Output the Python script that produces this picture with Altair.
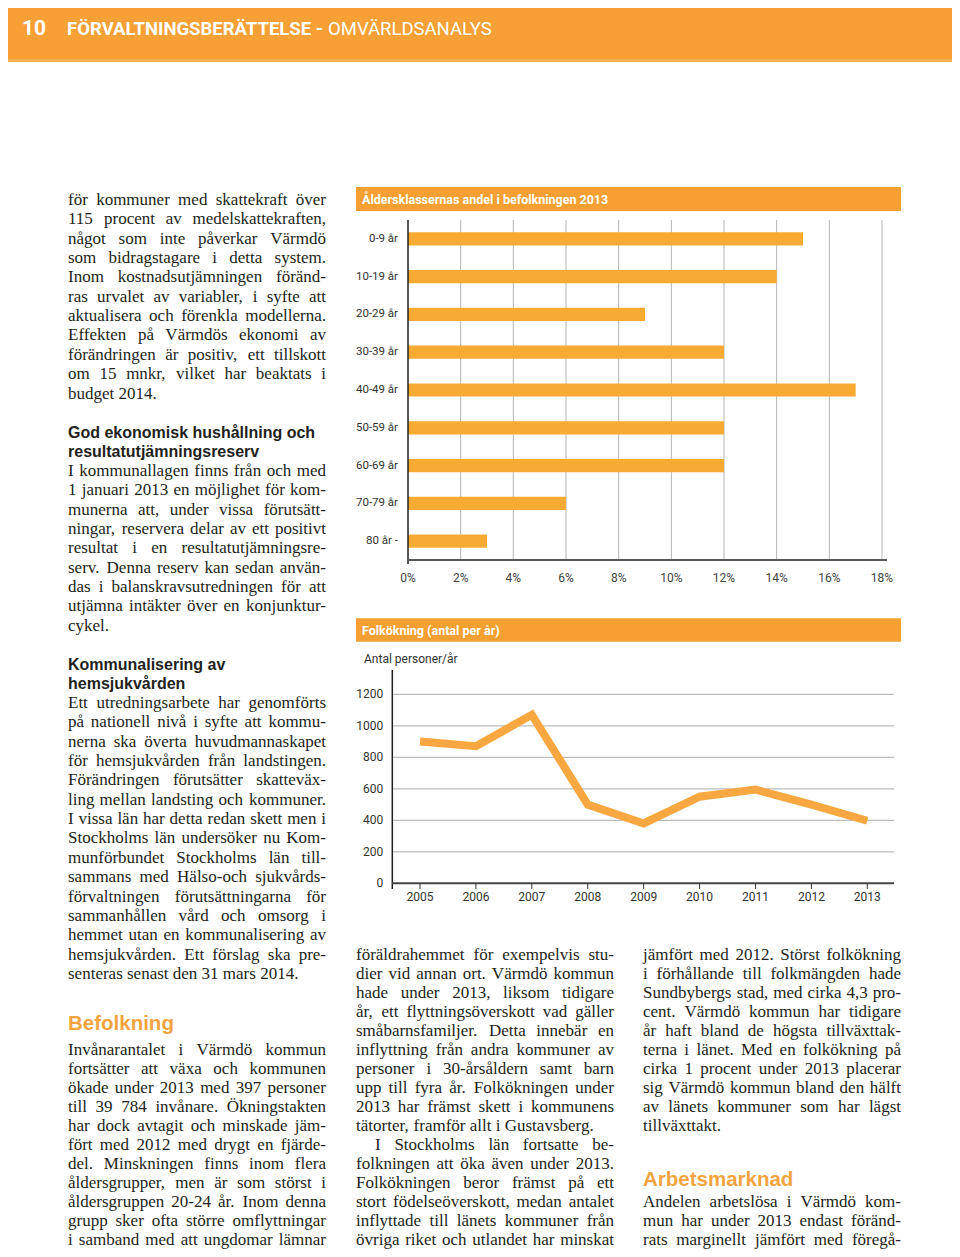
import altair as alt
import pandas as pd

# ------------------------------------------------------------------ data
AGE_GROUPS = ["0-9 år", "10-19 år", "20-29 år", "30-39 år", "40-49 år",
              "50-59 år", "60-69 år", "70-79 år", "80 år -"]
AGE_SHARE = [15, 14, 9, 12, 17, 12, 12, 6, 3]          # percent
PCT_TICKS = [0, 2, 4, 6, 8, 10, 12, 14, 16, 18]

YEARS = ["2005", "2006", "2007", "2008", "2009", "2010", "2011", "2012", "2013"]
GROWTH = [900, 870, 1070, 500, 380, 550, 595, 500, 397]  # persons / year
GROWTH_TICKS = [0, 200, 400, 600, 800, 1000, 1200]

HEADER_NUM = "10"
HEADER_BOLD = "FÖRVALTNINGSBERÄTTELSE -"
HEADER_LIGHT = "OMVÄRLDSANALYS"
BAR_TITLE = "Åldersklassernas andel i befolkningen 2013"
LINE_TITLE = "Folkökning (antal per år)"
LINE_YLABEL = "Antal personer/år"

LEFT_1 = [
    "för kommuner med skattekraft över",
    "115 procent av medelskattekraften,",
    "något som inte påverkar Värmdö",
    "som bidragstagare i detta system.",
    "Inom kostnadsutjämningen föränd-",
    "ras urvalet av variabler, i syfte att",
    "aktualisera och förenkla modellerna.",
    "Effekten på Värmdös ekonomi av",
    "förändringen är positiv, ett tillskott",
    "om 15 mnkr, vilket har beaktats i",
    "budget 2014.",
]
HEAD_1 = ["God ekonomisk hushållning och", "resultatutjämningsreserv"]
LEFT_2 = [
    "I kommunallagen finns från och med",
    "1 januari 2013 en möjlighet för kom-",
    "munerna att, under vissa förutsätt-",
    "ningar, reservera delar av ett positivt",
    "resultat i en resultatutjämningsre-",
    "serv. Denna reserv kan sedan använ-",
    "das i balanskravsutredningen för att",
    "utjämna intäkter över en konjunktur-",
    "cykel.",
]
HEAD_2 = ["Kommunalisering av", "hemsjukvården"]
LEFT_3 = [
    "Ett utredningsarbete har genomförts",
    "på nationell nivå i syfte att kommu-",
    "nerna ska överta huvudmannaskapet",
    "för hemsjukvården från landstingen.",
    "Förändringen förutsätter skatteväx-",
    "ling mellan landsting och kommuner.",
    "I vissa län har detta redan skett men i",
    "Stockholms län undersöker nu Kom-",
    "munförbundet Stockholms län till-",
    "sammans med Hälso-och sjukvårds-",
    "förvaltningen förutsättningarna för",
    "sammanhållen vård och omsorg i",
    "hemmet utan en kommunalisering av",
    "hemsjukvården. Ett förslag ska pre-",
    "senteras senast den 31 mars 2014.",
]
HEAD_3 = ["Befolkning"]
LEFT_4 = [
    "Invånarantalet i Värmdö kommun",
    "fortsätter att växa och kommunen",
    "ökade under 2013 med 397 personer",
    "till 39 784 invånare. Ökningstakten",
    "har dock avtagit och minskade jäm-",
    "fört med 2012 med drygt en fjärde-",
    "del. Minskningen finns inom flera",
    "åldersgrupper, men är som störst i",
    "åldersgruppen 20-24 år. Inom denna",
    "grupp sker ofta större omflyttningar",
    "i samband med att ungdomar lämnar",
]
MID_1 = [
    "föräldrahemmet för exempelvis stu-",
    "dier vid annan ort. Värmdö kommun",
    "hade under 2013, liksom tidigare",
    "år, ett flyttningsöverskott vad gäller",
    "småbarnsfamiljer. Detta innebär en",
    "inflyttning från andra kommuner av",
    "personer i 30-årsåldern samt barn",
    "upp till fyra år. Folkökningen under",
    "2013 har främst skett i kommunens",
    "tätorter, framför allt i Gustavsberg.",
]
MID_2 = [
    "I Stockholms län fortsatte be-",
    "folkningen att öka även under 2013.",
    "Folkökningen beror främst på ett",
    "stort födelseöverskott, medan antalet",
    "inflyttade till länets kommuner från",
    "övriga riket och utlandet har minskat",
]
RIGHT_1 = [
    "jämfört med 2012. Störst folkökning",
    "i förhållande till folkmängden hade",
    "Sundbybergs stad, med cirka 4,3 pro-",
    "cent. Värmdö kommun har tidigare",
    "år haft bland de högsta tillväxttak-",
    "terna i länet. Med en folkökning på",
    "cirka 1 procent under 2013 placerar",
    "sig Värmdö kommun bland den hälft",
    "av länets kommuner som har lägst",
    "tillväxttakt.",
]
HEAD_4 = ["Arbetsmarknad"]
RIGHT_2 = [
    "Andelen arbetslösa i Värmdö kom-",
    "mun har under 2013 endast föränd-",
    "rats marginellt jämfört med föregå-",
]

# ------------------------------------------------------------------ style
ORANGE_HEAD = "#F7A035"
ORANGE_BAN = "#F6A033"
ORANGE_BAR = "#F8AB33"
ORANGE_LINE = "#F9A841"
ORANGE_TXT = "#F3A43F"
INK = "#231F20"
COND = "Roboto, 'Liberation Sans', sans-serif"
SERIF = "'Liberation Serif', 'Times New Roman', serif"
SANS = "'Liberation Sans', Arial, sans-serif"
BODY = 17
LH = 19.35

# approximate advance widths (Times New Roman metrics, 1/1000 em) for justification
_W = {" ": 250, ",": 250, "-": 333, ".": 250, ":": 278, ";": 278, "(": 333, ")": 333,
      "/": 278, "%": 833}
_W.update({d: 500 for d in "0123456789"})
_W.update(dict(zip("ABCDEFGHIJKLMNOPQRSTUVWXYZ",
                   [722, 667, 667, 722, 611, 556, 722, 722, 333, 389, 722, 611, 889,
                    722, 722, 556, 722, 667, 556, 611, 722, 722, 944, 722, 722, 611])))
_W.update(dict(zip("abcdefghijklmnopqrstuvwxyz",
                   [444, 500, 444, 500, 444, 333, 500, 500, 278, 278, 500, 278, 778,
                    500, 500, 500, 500, 333, 389, 278, 500, 500, 722, 500, 500, 444])))
_W.update({"Ä": 722, "Å": 722, "Ö": 722, "ä": 444, "å": 444, "ö": 500, "é": 444})


def word_width(w, size):
    return sum(_W.get(c, 500) for c in w) * size / 1000.0


def justify(lines, x0, y0, width, lh=LH, size=BODY, justify_last=False, indent_first=0.0):
    left, right = [], []
    for i, line in enumerate(lines):
        y = y0 + i * lh
        ind = indent_first if i == 0 else 0.0
        words = line.split(" ")
        ws = [word_width(w, size) for w in words]
        just = (i < len(lines) - 1) or justify_last
        if just and len(words) > 1:
            gap = (width - ind - sum(ws)) / (len(words) - 1)
            gap = max(gap, 0.2 * size)
            x = x0 + ind
            for w, ww in zip(words[:-1], ws[:-1]):
                left.append({"w": w, "x": x, "y": y})
                x += ww + gap
            right.append({"w": words[-1], "x": x0 + width, "y": y})
        else:
            x = x0 + ind
            for w, ww in zip(words, ws):
                left.append({"w": w, "x": x, "y": y})
                x += ww + 0.25 * size
    return left, right


one = pd.DataFrame({"k": [0]})


def box(x0, x1, y0, y1, color):
    return alt.Chart(one).mark_rect(color=color).encode(
        x=alt.value(x0), x2=alt.value(x1), y=alt.value(y0), y2=alt.value(y1))


def txt(lines, x, y, size, font=SERIF, weight="normal", color=INK, lh=LH, align="left",
        baseline="alphabetic"):
    return alt.Chart(one).mark_text(
        align=align, baseline=baseline, font=font, fontSize=size, fontWeight=weight,
        color=color, lineHeight=lh).encode(
        x=alt.value(x), y=alt.value(y), text=alt.value(lines))


def hrule(x0, x1, y, color, w):
    return alt.Chart(one).mark_rule(color=color, strokeWidth=w).encode(
        x=alt.value(x0), x2=alt.value(x1), y=alt.value(y))


def vrule(x, y0, y1, color, w):
    return alt.Chart(one).mark_rule(color=color, strokeWidth=w).encode(
        x=alt.value(x), y=alt.value(y0), y2=alt.value(y1))


layers = []

# ---------------- page header
layers.append(box(0, 944, 0, 54, ORANGE_HEAD))
layers.append(box(0, 944, 51, 54, "#F9B254"))
layers.append(txt(HEADER_NUM, 14, 27, 21, font=COND, weight="bold", color="white"))
layers.append(txt(HEADER_BOLD, 315, 27, 18.5, font=COND, weight="bold", color="white",
                  align="right"))
layers.append(txt(HEADER_LIGHT, 320, 27, 18.5, font=COND, weight="normal", color="white"))

# ---------------- bar chart
bar_df = pd.DataFrame({"age": AGE_GROUPS, "share": AGE_SHARE})
pct_df = pd.DataFrame({"t": PCT_TICKS, "lab": [f"{t}%" for t in PCT_TICKS]})
xs = alt.Scale(domain=[0, 18], range=[400, 874], nice=False, zero=True)
ys = alt.Scale(domain=AGE_GROUPS, range=[212, 552], paddingInner=0.65, paddingOuter=0.325)

layers.append(box(348, 893, 179, 203, ORANGE_BAN))
layers.append(txt(BAR_TITLE, 354, 191.5, 12.5, font=COND, weight="bold", color="white",
                  baseline="middle"))
layers.append(alt.Chart(pct_df).transform_filter("datum.t > 0").mark_rule(
    color="#B5B5B5", strokeWidth=1).encode(
    x=alt.X("t:Q", scale=xs, axis=None), y=alt.value(212), y2=alt.value(552)))
layers.append(alt.Chart(bar_df).mark_bar(color=ORANGE_BAR).encode(
    x=alt.X("share:Q", scale=xs, axis=None),
    y=alt.Y("age:N", scale=ys, axis=None, sort=AGE_GROUPS)))
layers.append(vrule(400, 212, 556, "#1E1E1E", 1.5))
layers.append(hrule(400, 879, 552, "#555555", 2))
layers.append(alt.Chart(bar_df).mark_text(
    align="right", baseline="middle", font=COND, fontSize=11.5, color="#333333").encode(
    x=alt.value(390), y=alt.Y("age:N", scale=ys, axis=None, sort=AGE_GROUPS), text="age:N"))
layers.append(alt.Chart(pct_df).mark_text(
    align="center", baseline="middle", font=COND, fontSize=12, color="#444444").encode(
    x=alt.X("t:Q", scale=xs, axis=None), y=alt.value(569.7), text="lab:N"))

# ---------------- line chart
line_df = pd.DataFrame({"year": YEARS, "v": GROWTH})
gt_df = pd.DataFrame({"t": GROWTH_TICKS})
lx = alt.Scale(type="point", domain=YEARS, range=[412, 859.3], padding=0)
ly = alt.Scale(domain=[0, 1200], range=[875.3, 686.3], nice=False, zero=True)

layers.append(box(348, 893, 610.3, 633.7, ORANGE_BAN))
layers.append(txt(LINE_TITLE, 354, 622.5, 12.5, font=COND, weight="bold", color="white",
                  baseline="middle"))
layers.append(txt(LINE_YLABEL, 356, 651.3, 12, font=COND, color="#333333",
                  baseline="middle"))
layers.append(alt.Chart(gt_df).transform_filter("datum.t > 0").mark_rule(
    color="#BDBDBD", strokeWidth=1.2).encode(
    x=alt.value(384), x2=alt.value(886), y=alt.Y("t:Q", scale=ly, axis=None)))
layers.append(vrule(384.3, 662, 881, "#1E1E1E", 1.5))
layers.append(hrule(384, 886, 875.3, "#444444", 2))
layers.append(alt.Chart(line_df).mark_rule(color="#333333", strokeWidth=1).encode(
    x=alt.X("year:O", scale=lx, axis=None), y=alt.value(875), y2=alt.value(881)))
layers.append(alt.Chart(line_df).mark_line(
    color=ORANGE_LINE, strokeWidth=8, strokeJoin="miter", strokeCap="butt").encode(
    x=alt.X("year:O", scale=lx, axis=None, sort=YEARS),
    y=alt.Y("v:Q", scale=ly, axis=None)))
layers.append(alt.Chart(gt_df).mark_text(
    align="right", baseline="middle", font=COND, fontSize=12, color="#333333").encode(
    x=alt.value(375.3), y=alt.Y("t:Q", scale=ly, axis=None), text="t:Q"))
layers.append(alt.Chart(line_df).mark_text(
    align="center", baseline="middle", font=COND, fontSize=12, color="#333333").encode(
    x=alt.X("year:O", scale=lx, axis=None), y=alt.value(888.7), text="year:N"))

# ---------------- headings
layers.append(txt(HEAD_1, 60, 429.5, 16, font=SANS, weight="bold"))
layers.append(txt(HEAD_2, 60, 661.5, 16, font=SANS, weight="bold"))
layers.append(txt(HEAD_3, 60, 1021.5, 20.5, font=SANS, weight="bold", color=ORANGE_TXT))
layers.append(txt(HEAD_4, 635, 1177.5, 20.5, font=SANS, weight="bold", color=ORANGE_TXT))

# ---------------- justified body text
COLW = 258
LH2 = 19.0
blocks = [
    justify(LEFT_1, 60, 197, COLW),
    justify(LEFT_2, 60, 468, COLW),
    justify(LEFT_3, 60, 700, COLW),
    justify(LEFT_4, 60, 1047, COLW, lh=LH2, justify_last=True),
    justify(MID_1, 348, 952, COLW, lh=LH2),
    justify(MID_2, 348, 952 + 10 * LH2, COLW, lh=LH2, justify_last=True, indent_first=19),
    justify(RIGHT_1, 635, 952, COLW, lh=LH2),
    justify(RIGHT_2, 635, 1199, COLW, lh=LH2, justify_last=True),
]
left_words = pd.DataFrame([r for b in blocks for r in b[0]])
right_words = pd.DataFrame([r for b in blocks for r in b[1]])

for df, al in ((left_words, "left"), (right_words, "right")):
    layers.append(alt.Chart(df).mark_text(
        align=al, baseline="alphabetic", font=SERIF, fontSize=BODY, color=INK).encode(
        x=alt.X("x:Q", scale=None, axis=None),
        y=alt.Y("y:Q", scale=None, axis=None),
        text="w:N"))

chart = alt.layer(*layers).resolve_scale(
    x="independent", y="independent"
).properties(
    width=944, height=1241, padding=0,
    autosize=alt.AutoSizeParams(type="none"),
    background="white",
).configure_view(stroke=None)

chart.save("out.html", embed_options={"renderer": "svg", "actions": False})
